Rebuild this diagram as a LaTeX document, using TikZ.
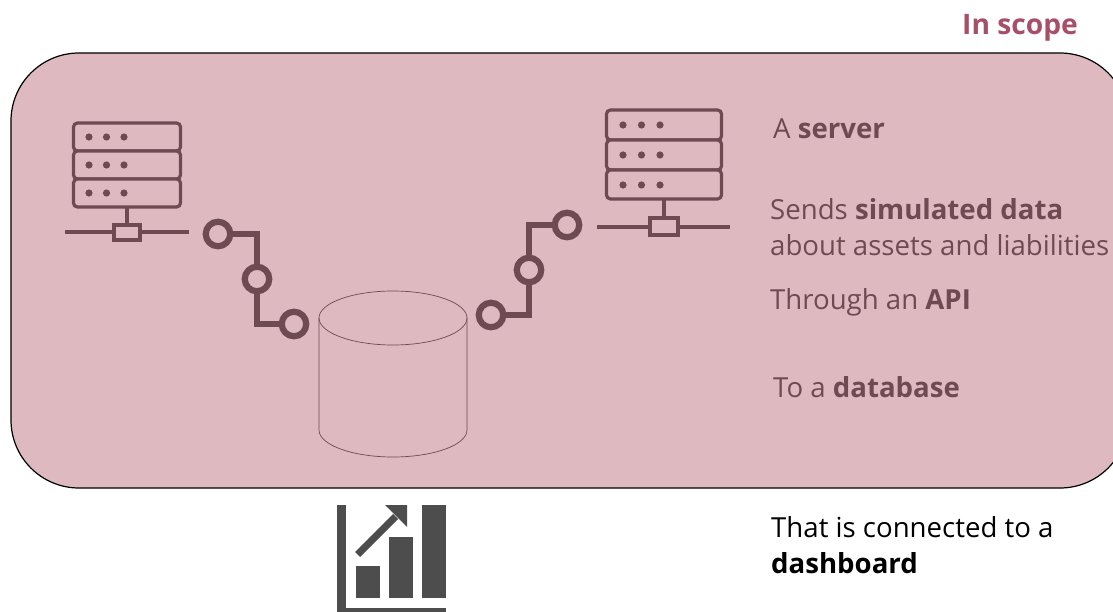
\documentclass[tikz,border=0pt]{standalone}
\usepackage{fontspec}
\setmainfont{Open Sans}
\definecolor{panel}{HTML}{DEB9C0}
\definecolor{ink}{HTML}{6E4A52}
\definecolor{head}{HTML}{A64F66}
\definecolor{dashgrey}{HTML}{4D4D4D}
\tikzset{
  ring/.style={circle,draw=ink,line width=6.2pt,fill=panel,minimum size=24.5pt,inner sep=0pt},
  link/.style={draw=ink,line width=6.5pt,line join=miter},
  srv/.style={draw=ink,line width=3.2pt,rounded corners=4pt,fill=panel},
  srvline/.style={draw=ink,line width=3.2pt},
  lbl/.style={anchor=base west,inner sep=0pt,text=ink,font=\fontsize{27.6}{27.6}\selectfont},
  blk/.style={lbl,text=black},
  dashbar/.style={fill=dashgrey,draw=none},
}
\begin{document}
\begin{tikzpicture}[x=1pt,y=-1pt]
\useasboundingbox (0,0) rectangle (1113,612);
\begin{scope}
\clip (0,0) rectangle (1113,612);
\draw[fill=panel,draw=black,line width=1.2pt,rounded corners=68pt] (11,53) rectangle (1128,488);

% left server
\foreach \ya/\yb in {123/151,151/179,179/207}{
  \draw[srv] (73.5,\ya) rectangle (180.5,\yb);
  \foreach \xd in {89,106.5,124} \fill[ink] (\xd,\ya+14) circle (3.6pt);
}
\draw[srvline] (127,207) -- (127,225);
\draw[srvline] (65,232) -- (189,232);
\draw[srv,rounded corners=0pt] (114,225) rectangle (140,240);

% right server
\foreach \ya/\yb in {110/140,140/170,170/199}{
  \draw[srv] (606.5,\ya) rectangle (721.5,\yb);
  \foreach \xd in {623,641.5,660} \fill[ink] (\xd,\ya+15) circle (3.6pt);
}
\draw[srvline] (664,199) -- (664,218);
\draw[srvline] (597,227) -- (730,227);
\draw[srv,rounded corners=0pt] (650,218) rectangle (678,235);

% database
\draw[ink,line width=0.7pt] (319,318) -- (319,430) arc[start angle=180,end angle=0,x radius=74,y radius=27] -- (467,318);
\draw[ink,line width=0.7pt] (393,318) ellipse[x radius=74,y radius=27];

% connectors
\coordinate (la) at (218,234);
\coordinate (lb) at (257,279);
\coordinate (lc) at (294,324);
\coordinate (ra) at (567,225);
\coordinate (rb) at (529,270);
\coordinate (rc) at (491,315);
\draw[link] (la) -| (lb) |- (lc);
\draw[link] (ra) -| (rb) |- (rc);
\node[ring] (n1) at (la) {};
\node[ring] (n2) at (lb) {};
\node[ring] (n3) at (lc) {};
\node[ring] (n4) at (ra) {};
\node[ring] (n5) at (rb) {};
\node[ring] (n6) at (rc) {};

% dashboard icon
\fill[dashbar] (337,505) rectangle (346,612);
\fill[dashbar] (337,608) rectangle (446,612);
\fill[dashbar] (356,566) rectangle (380,598);
\fill[dashbar] (389,537) rectangle (413,598);
\fill[dashbar] (422,505) rectangle (446,598);
\fill[dashbar] (355,552) -- (360,557) -- (398,519) -- (393,514) -- cycle;
\fill[dashbar] (385,505) -- (407,505) -- (407,527) -- cycle;
\end{scope}

% texts
\node[lbl,text=head,font=\fontsize{28.2}{28.2}\selectfont\bfseries] (t0) at (962,35) {In scope};
\node[lbl] (t1) at (773,139) {A \textbf{server}};
\node[lbl] (t2) at (770,220) {Sends \textbf{simulated data}};
\node[lbl] (t3) at (770,255) {about assets and liabilities};
\node[lbl] (t4) at (770,309) {Through an \textbf{API}};
\node[lbl] (t5) at (773,397) {To a \textbf{database}};
\node[blk] (t6) at (771,537) {That is connected to a};
\node[blk] (t7) at (771,573) {\textbf{dashboard}};
\end{tikzpicture}
\end{document}
